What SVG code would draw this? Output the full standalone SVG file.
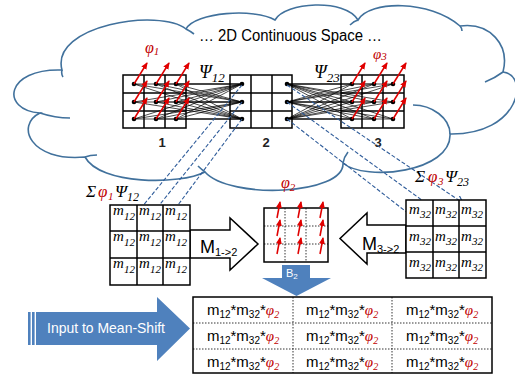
<svg xmlns="http://www.w3.org/2000/svg" width="515" height="377" viewBox="0 0 515 377">
<defs>
<marker id="ra" markerUnits="userSpaceOnUse" markerWidth="8" markerHeight="8" refX="6" refY="3" orient="auto"><path d="M0,0L7,3L0,6z" fill="#e00000"/></marker>
<marker id="ba" markerUnits="userSpaceOnUse" markerWidth="10" markerHeight="10" refX="7" refY="4" orient="auto"><path d="M0,0L7,4L0,8" fill="none" stroke="#2f5c9a" stroke-width="1.2"/></marker>
</defs>
<style>
.cloud{fill:none;stroke:#41719c;stroke-width:1.6}
.gb{fill:none;stroke:#000;stroke-width:1.5}
.mb{fill:#fff;stroke:#000;stroke-width:1.5}
.dl{stroke:#000;stroke-width:0.8;stroke-dasharray:1.5 1.5;fill:none}
.mesh{stroke:#000;stroke-width:0.7;fill:none}
.dot{fill:#000}
.rarr{stroke:#e00000;stroke-width:1.5;fill:none;marker-end:url(#ra)}
.dash{stroke:#2f5c9a;stroke-width:1.1;stroke-dasharray:4 2;fill:none;marker-end:url(#ba)}
.sans{font-family:"Liberation Sans",Arial,sans-serif}
.math{font-family:"Liberation Serif","Times New Roman",serif;font-style:italic}
.red{fill:#c00000}
.blue{fill:#4f81bd}
.m{font-size:15px}
.s{font-size:11px}
.tc{font-family:"Liberation Sans",Arial,sans-serif;font-size:15px;text-anchor:middle}
</style>

<g id="cloud">
<path class="cloud" d="M62,70 C50,25 160,8 186,29 C195,12 255,8 275,20 C285,2 345,-2 358,20 C370,0 430,0 460,26 C490,22 510,45 503,72 C530,75 520,135 450,134 C452,172 365,182 343,163 C345,195 230,200 205,172 C180,185 100,185 85,157 C30,162 15,125 40,113 C0,110 5,68 62,70 Z"/>
<path class="cloud" d="M62,70 Q61,74 63,77 M186,29 Q190,31 194,34 M350,25 Q354,21 358,20 M460,26 Q462,28 462,31 M503,72 Q495,78 485,82 M450,134 C450,118 432,105 413,105 M343,163 Q344,157 348,152 M205,172 Q201,169 198,166 M85,157 Q90,155 97,155 M40,113 Q55,118 70,118"/>
<text class="sans" x="199" y="41" font-size="16" textLength="183" lengthAdjust="spacingAndGlyphs">… 2D Continuous Space …</text>
</g>

<g id="grid1">
<rect class="gb" x="123" y="75" width="63" height="53"/>
<path class="gb" d="M144,75V128M165,75V128M123,93H186M123,111H186"/>
<text class="sans" x="162" y="147" font-size="13" font-weight="bold" text-anchor="middle" fill="#222">1</text>
<text class="math red" x="145" y="53" font-size="16">φ<tspan font-size="11" dy="2">1</tspan></text>
</g>

<g id="grid2">
<rect class="gb" x="230" y="75" width="62" height="53"/>
<path class="gb" d="M251,75V128M272,75V128M230,93H292M230,111H292"/>
<text class="sans" x="266" y="147" font-size="13" font-weight="bold" text-anchor="middle" fill="#222">2</text>
</g>

<g id="grid3">
<rect class="gb" x="341" y="75" width="63" height="53"/>
<path class="gb" d="M362,75V128M383,75V128M341,93H404M341,111H404"/>
<text class="sans" x="378" y="147" font-size="13" font-weight="bold" text-anchor="middle" fill="#222">3</text>
<text class="math red" x="373" y="59" font-size="15">φ<tspan font-size="11" dy="1">3</tspan></text>
</g>

<g id="connectors">
<path class="mesh" d="M134 84L242 84M156 84L242 84M176 84L242 84M134 102L242 84M156 102L242 84M176 102L242 84M134 119L242 84M156 119L242 84M176 119L242 84M134 84L242 102M156 84L242 102M176 84L242 102M134 102L242 102M156 102L242 102M176 102L242 102M134 119L242 102M156 119L242 102M176 119L242 102M134 84L242 119M156 84L242 119M176 84L242 119M134 102L242 119M156 102L242 119M176 102L242 119M134 119L242 119M156 119L242 119M176 119L242 119"/>
<path class="mesh" d="M287 84L352 84M287 84L374 84M287 84L393 84M287 84L352 102M287 84L374 102M287 84L393 102M287 84L352 119M287 84L374 119M287 84L393 119M287 102L352 84M287 102L374 84M287 102L393 84M287 102L352 102M287 102L374 102M287 102L393 102M287 102L352 119M287 102L374 119M287 102L393 119M287 119L352 84M287 119L374 84M287 119L393 84M287 119L352 102M287 119L374 102M287 119L393 102M287 119L352 119M287 119L374 119M287 119L393 119"/>
<g class="dot">
<circle cx="134" cy="84" r="2.3"/><circle cx="156" cy="84" r="2.3"/><circle cx="176" cy="84" r="2.3"/>
<circle cx="134" cy="102" r="2.3"/><circle cx="156" cy="102" r="2.3"/><circle cx="176" cy="102" r="2.3"/>
<circle cx="134" cy="119" r="2.3"/><circle cx="156" cy="119" r="2.3"/><circle cx="176" cy="119" r="2.3"/>
<circle cx="242" cy="84" r="2.3"/><circle cx="242" cy="102" r="2.3"/><circle cx="242" cy="119" r="2.3"/>
<circle cx="287" cy="84" r="2.3"/><circle cx="287" cy="102" r="2.3"/><circle cx="287" cy="119" r="2.3"/>
<circle cx="352" cy="84" r="2.3"/><circle cx="374" cy="84" r="2.3"/><circle cx="393" cy="84" r="2.3"/>
<circle cx="352" cy="102" r="2.3"/><circle cx="374" cy="102" r="2.3"/><circle cx="393" cy="102" r="2.3"/>
<circle cx="352" cy="119" r="2.3"/><circle cx="374" cy="119" r="2.3"/><circle cx="393" cy="119" r="2.3"/>
</g>
<g>
<path class="rarr" d="M134,84L147,63"/><path class="rarr" d="M156,84L169,63"/><path class="rarr" d="M176,84L189,63"/>
<path class="rarr" d="M134,102L147,81"/><path class="rarr" d="M156,102L169,81"/><path class="rarr" d="M176,102L189,81"/>
<path class="rarr" d="M134,119L147,98"/><path class="rarr" d="M156,119L169,98"/><path class="rarr" d="M176,119L189,98"/>
<path class="rarr" d="M352,84L365,63"/><path class="rarr" d="M374,84L387,63"/><path class="rarr" d="M393,84L406,63"/>
<path class="rarr" d="M352,102L365,81"/><path class="rarr" d="M374,102L387,81"/><path class="rarr" d="M393,102L406,81"/>
<path class="rarr" d="M352,119L365,98"/><path class="rarr" d="M374,119L387,98"/><path class="rarr" d="M393,119L406,98"/>
</g>
<text class="math" x="199" y="78" font-size="18">Ψ<tspan font-size="13" dy="4">12</tspan></text>
<text class="math" x="314" y="78" font-size="18">Ψ<tspan font-size="13" dy="4">23</tspan></text>
<path class="dash" d="M242,85L137,213"/>
<path class="dash" d="M242,102L137,233"/>
<path class="dash" d="M242,119L137,260"/>
<path class="dash" d="M287,85L463,203"/>
<path class="dash" d="M287,102L463,230"/>
<path class="dash" d="M287,119L463,256"/>
</g>

<g id="matrix12">
<path d="M190,230H230V218L258,244L230,270V258H190Z" fill="#fff" stroke="#000" stroke-width="1.5"/>
<text class="sans" x="200" y="253" font-size="18">M<tspan font-size="11" dy="3">1-&gt;2</tspan></text>
<rect class="mb" x="110" y="205" width="80" height="80"/>
<path class="gb" d="M137,205V285M163,205V285M110,231H190M110,258H190"/>
<g class="math">
<text class="m" x="113" y="215">m</text><text class="s" x="124" y="220">12</text>
<text class="m" x="139" y="215">m</text><text class="s" x="150" y="220">12</text>
<text class="m" x="165" y="215">m</text><text class="s" x="176" y="220">12</text>
<text class="m" x="113" y="241">m</text><text class="s" x="124" y="246">12</text>
<text class="m" x="139" y="241">m</text><text class="s" x="150" y="246">12</text>
<text class="m" x="165" y="241">m</text><text class="s" x="176" y="246">12</text>
<text class="m" x="113" y="268">m</text><text class="s" x="124" y="273">12</text>
<text class="m" x="139" y="268">m</text><text class="s" x="150" y="273">12</text>
<text class="m" x="165" y="268">m</text><text class="s" x="176" y="273">12</text>
</g>
<text class="math" font-size="17" y="197"><tspan x="86">Σ</tspan><tspan class="red" x="98">φ</tspan><tspan class="red" x="108" font-size="11" dy="3">1</tspan><tspan x="115" dy="-3">Ψ</tspan><tspan x="127" font-size="12" dy="4">12</tspan></text>
</g>

<g id="matrix32">
<path d="M406,225H367V213L340,238.5L367,264V253H406Z" fill="#fff" stroke="#000" stroke-width="1.5"/>
<text class="sans" x="362" y="250" font-size="18">M<tspan font-size="11" dy="3">3-&gt;2</tspan></text>
<rect class="mb" x="406" y="200" width="80" height="78"/>
<path class="gb" d="M433,200V278M459,200V278M406,226H486M406,252H486"/>
<g class="math">
<text class="m" x="409" y="214">m</text><text class="s" x="420" y="218">32</text>
<text class="m" x="435" y="214">m</text><text class="s" x="446" y="218">32</text>
<text class="m" x="461" y="214">m</text><text class="s" x="472" y="218">32</text>
<text class="m" x="409" y="241">m</text><text class="s" x="420" y="245">32</text>
<text class="m" x="435" y="241">m</text><text class="s" x="446" y="245">32</text>
<text class="m" x="461" y="241">m</text><text class="s" x="472" y="245">32</text>
<text class="m" x="409" y="267">m</text><text class="s" x="420" y="271">32</text>
<text class="m" x="435" y="267">m</text><text class="s" x="446" y="271">32</text>
<text class="m" x="461" y="267">m</text><text class="s" x="472" y="271">32</text>
</g>
<text class="math" font-size="17" y="182"><tspan x="415">Σ</tspan><tspan class="red" x="428">φ</tspan><tspan class="red" x="438" font-size="11" dy="3">3</tspan><tspan x="445" dy="-3">Ψ</tspan><tspan x="457" font-size="12" dy="4">23</tspan></text>
</g>

<g id="phi2">
<rect class="mb" x="264" y="208" width="64" height="54"/>
<path class="dl" d="M285,208V262M306,208V262M264,226H328M264,244H328"/>
<path class="rarr" d="M277,218L280,202"/><path class="rarr" d="M298,218L301,202"/><path class="rarr" d="M320,218L323,202"/>
<path class="rarr" d="M277,236L280,220"/><path class="rarr" d="M298,236L301,220"/><path class="rarr" d="M320,236L323,220"/>
<path class="rarr" d="M277,254L280,238"/><path class="rarr" d="M298,254L301,238"/><path class="rarr" d="M320,254L323,238"/>
<text class="math red" x="281" y="188" font-size="16">φ<tspan font-size="11" dy="3">2</tspan></text>
</g>

<g id="b2">
<path class="blue" d="M282,265H310V278H331L296.5,296L262,278H282Z"/>
<text class="sans" x="286" y="277" font-size="11" fill="#fff">B<tspan font-size="8" dy="2">2</tspan></text>
</g>

<g id="input">
<rect class="blue" x="28" y="312" width="2.6" height="33"/>
<rect class="blue" x="32" y="312" width="2.6" height="33"/>
<path class="blue" d="M36,312H157V297L190,328.5L157,361V345H36Z"/>
<text class="sans" x="47" y="333" font-size="15" fill="#fff" textLength="118" lengthAdjust="spacingAndGlyphs">Input to Mean-Shift</text>
</g>

<g id="table">
<rect x="193" y="297" width="299" height="76" fill="#fff" stroke="#000" stroke-width="1.5"/>
<path class="dl" d="M293,297V373M392,297V373M193,323H492M193,349H492"/>
<text class="tc" x="243" y="315">m<tspan font-size="10" dy="3">12</tspan><tspan dy="-3">*m</tspan><tspan font-size="10" dy="3">32</tspan><tspan dy="-3">*</tspan><tspan class="math red">φ</tspan><tspan class="math red" font-size="10" dy="3">2</tspan></text>
<text class="tc" x="342" y="315">m<tspan font-size="10" dy="3">12</tspan><tspan dy="-3">*m</tspan><tspan font-size="10" dy="3">32</tspan><tspan dy="-3">*</tspan><tspan class="math red">φ</tspan><tspan class="math red" font-size="10" dy="3">2</tspan></text>
<text class="tc" x="442" y="315">m<tspan font-size="10" dy="3">12</tspan><tspan dy="-3">*m</tspan><tspan font-size="10" dy="3">32</tspan><tspan dy="-3">*</tspan><tspan class="math red">φ</tspan><tspan class="math red" font-size="10" dy="3">2</tspan></text>
<text class="tc" x="243" y="341">m<tspan font-size="10" dy="3">12</tspan><tspan dy="-3">*m</tspan><tspan font-size="10" dy="3">32</tspan><tspan dy="-3">*</tspan><tspan class="math red">φ</tspan><tspan class="math red" font-size="10" dy="3">2</tspan></text>
<text class="tc" x="342" y="341">m<tspan font-size="10" dy="3">12</tspan><tspan dy="-3">*m</tspan><tspan font-size="10" dy="3">32</tspan><tspan dy="-3">*</tspan><tspan class="math red">φ</tspan><tspan class="math red" font-size="10" dy="3">2</tspan></text>
<text class="tc" x="442" y="341">m<tspan font-size="10" dy="3">12</tspan><tspan dy="-3">*m</tspan><tspan font-size="10" dy="3">32</tspan><tspan dy="-3">*</tspan><tspan class="math red">φ</tspan><tspan class="math red" font-size="10" dy="3">2</tspan></text>
<text class="tc" x="243" y="367">m<tspan font-size="10" dy="3">12</tspan><tspan dy="-3">*m</tspan><tspan font-size="10" dy="3">32</tspan><tspan dy="-3">*</tspan><tspan class="math red">φ</tspan><tspan class="math red" font-size="10" dy="3">2</tspan></text>
<text class="tc" x="342" y="367">m<tspan font-size="10" dy="3">12</tspan><tspan dy="-3">*m</tspan><tspan font-size="10" dy="3">32</tspan><tspan dy="-3">*</tspan><tspan class="math red">φ</tspan><tspan class="math red" font-size="10" dy="3">2</tspan></text>
<text class="tc" x="442" y="367">m<tspan font-size="10" dy="3">12</tspan><tspan dy="-3">*m</tspan><tspan font-size="10" dy="3">32</tspan><tspan dy="-3">*</tspan><tspan class="math red">φ</tspan><tspan class="math red" font-size="10" dy="3">2</tspan></text>
</g>
</svg>
